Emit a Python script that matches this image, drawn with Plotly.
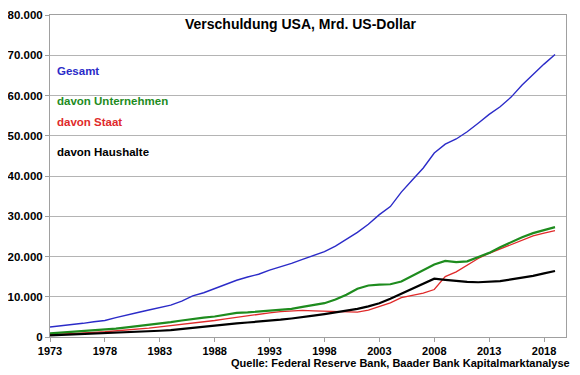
import plotly.graph_objects as go

years = list(range(1973, 2020))

gesamt = [2.5, 2.8, 3.0, 3.4, 3.8, 4.1, 4.8, 5.5, 6.1, 6.7, 7.3, 7.9, 8.9, 10.2, 11.0, 12.0,
          13.0, 14.1, 14.9, 15.6, 16.6, 17.4, 18.3, 19.3, 20.2, 21.2, 22.6, 24.2, 26.0, 28.0,
          30.4, 32.4, 36.0, 39.0, 42.0, 45.7, 47.9, 49.2, 51.0, 53.1, 55.3, 57.2, 59.6, 62.6,
          65.3, 67.8, 70.2]
unternehmen = [0.9, 1.1, 1.2, 1.4, 1.6, 1.8, 2.1, 2.4, 2.7, 3.0, 3.3, 3.7, 4.1, 4.5, 4.8, 5.1,
               5.6, 6.0, 6.1, 6.3, 6.5, 6.7, 7.0, 7.5, 7.9, 8.4, 9.3, 10.5, 12.0, 12.8,
               13.0, 13.1, 13.8, 15.2, 16.4, 18.0, 18.9, 18.6, 18.8, 19.8, 20.9, 22.3, 23.6, 24.8,
               25.8, 26.6, 27.3]
staat = [0.6, 0.7, 0.85, 1.0, 1.15, 1.3, 1.5, 1.7, 1.9, 2.2, 2.5, 2.8, 3.2, 3.5, 3.8, 4.1,
         4.5, 4.9, 5.2, 5.6, 6.0, 6.3, 6.5, 6.6, 6.5, 6.4, 6.3, 6.2, 6.2, 6.7,
         7.6, 8.5, 9.8, 10.4, 10.9, 11.8, 15.0, 16.2, 17.9, 19.5, 20.8, 21.9, 22.9, 24.1,
         25.1, 25.8, 26.4]
haushalte = [0.4, 0.5, 0.6, 0.7, 0.8, 0.9, 1.0, 1.1, 1.25, 1.4, 1.55, 1.7, 2.0, 2.3, 2.6, 2.8,
             3.1, 3.4, 3.6, 3.8, 4.0, 4.3, 4.6, 4.9, 5.3, 5.7, 6.1, 6.5, 7.0, 7.6,
             8.4, 9.5, 10.8, 12.1, 13.3, 14.5, 14.2, 13.9, 13.7, 13.6, 13.7, 13.9, 14.3, 14.7,
             15.2, 15.8, 16.4]

series_names = ["Gesamt", "davon Unternehmen", "davon Staat", "davon Haushalte"]
x_ticks = list(range(1973, 2019, 5))
y_ticks = list(range(0, 80001, 10000))

FONT = "Liberation Sans, Arial, sans-serif"
colors = ["#2b2bc8", "#1e8c1e", "#e02a2a", "#000000"]
widths = [1.4, 2.2, 1.3, 2.2]
data = [gesamt, unternehmen, staat, haushalte]

fig = go.Figure()
for i in [0, 2, 1, 3]:
    fig.add_trace(go.Scatter(
        x=years, y=[v * 1000 for v in data[i]], mode="lines",
        name=series_names[i], line=dict(color=colors[i], width=widths[i]),
        showlegend=False))

label_y = [66000, 58600, 53400, 46000]
for name, c, yy in zip(series_names, colors, label_y):
    fig.add_annotation(x=0.009, xref="paper", y=yy, yref="y", text="<b>%s</b>" % name,
                       showarrow=False, xanchor="left", yanchor="middle",
                       font=dict(family=FONT, size=11.5, color=c))

fig.add_annotation(x=0.486, xref="paper", y=0.972, yref="paper",
                   text="<b>Verschuldung USA, Mrd. US-Dollar</b>", showarrow=False,
                   xanchor="center", yanchor="middle",
                   font=dict(family=FONT, size=14, color="#000000"))
fig.add_annotation(x=1.0116, xref="paper", y=-0.08, yref="paper",
                   text="<b>Quelle: Federal Reserve Bank, Baader Bank Kapitalmarktanalyse</b>",
                   showarrow=False, xanchor="right", yanchor="middle",
                   font=dict(family=FONT, size=11, color="#000000"))

# the page body adds an 8px offset, so the figure is sized/margined to compensate
fig.update_layout(
    width=572, height=367,
    margin=dict(l=42, r=14, t=7, b=38, autoexpand=False),
    paper_bgcolor="white", plot_bgcolor="white",
    separators=",.",
    font=dict(family=FONT, color="#000000"),
)
fig.update_xaxes(range=[1973, 2020], tickvals=x_ticks, ticktext=[str(t) for t in x_ticks],
                 showgrid=False, showline=True, linecolor="#a0a0a0", linewidth=1,
                 mirror=True, ticks="outside", ticklen=4, tickcolor="#a0a0a0",
                 automargin=False,
                 tickfont=dict(family=FONT, size=11, color="#000000", weight="bold"),
                 zeroline=False)
fig.update_yaxes(range=[0, 80000], tickvals=y_ticks, tickformat=",d",
                 showgrid=True, gridcolor="#b4b4b4", gridwidth=1,
                 showline=True, linecolor="#a0a0a0", linewidth=1, mirror=True,
                 ticks="outside", ticklen=4, tickcolor="#a0a0a0", automargin=False,
                 tickfont=dict(family=FONT, size=11.5, color="#000000", weight="bold"),
                 zeroline=False)

fig.write_html("out.html")
